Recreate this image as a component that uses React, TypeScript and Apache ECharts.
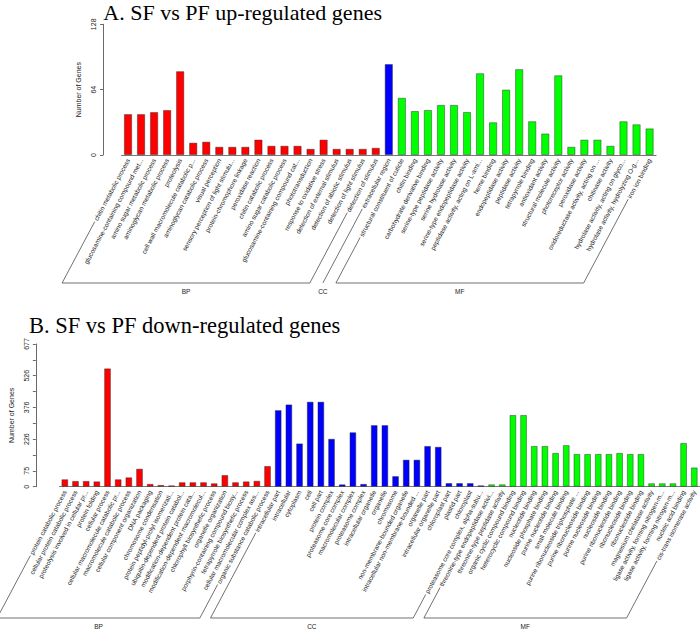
import React, { useEffect, useRef } from "react";
import * as echarts from "echarts";

// ---------- Panel A: SF vs PF up-regulated genes ----------
const A_BP_LABELS = [
  "chitin metabolic process",
  "glucosamine-containing compound metabolic process",
  "amino sugar metabolic process",
  "aminoglycan metabolic process",
  "proteolysis",
  "cell wall macromolecule catabolic process",
  "aminoglycan catabolic process",
  "visual perception",
  "sensory perception of light stimulus",
  "protein-chromophore linkage",
  "peroxidase reaction",
  "chitin catabolic process",
  "amino sugar catabolic process",
  "glucosamine-containing compound catabolic process",
  "phototransduction",
  "response to oxidative stress",
  "detection of external stimulus",
  "detection of abiotic stimulus",
  "detection of light stimulus",
  "detection of stimulus",
];
const A_BP_VALUES = [40, 40, 42, 44, 82, 12, 13, 8, 8, 8, 15, 9, 9, 9, 6, 15, 6, 6, 6, 7];

const A_CC_LABELS = ["extracellular region"];
const A_CC_VALUES = [89];

const A_MF_LABELS = [
  "structural constituent of cuticle",
  "chitin binding",
  "carbohydrate derivative binding",
  "serine-type peptidase activity",
  "serine hydrolase activity",
  "serine-type endopeptidase activity",
  "peptidase activity, acting on L-amino acid peptides",
  "heme binding",
  "endopeptidase activity",
  "peptidase activity",
  "tetrapyrrole binding",
  "antioxidant activity",
  "structural molecule activity",
  "photoreceptor activity",
  "peroxidase activity",
  "oxidoreductase activity, acting on peroxide as acceptor",
  "chitinase activity",
  "hydrolase activity, acting on glycosyl bonds",
  "hydrolase activity, hydrolyzing O-glycosyl compounds",
  "iron ion binding",
];
const A_MF_VALUES = [56, 43, 44, 49, 49, 42, 80, 32, 64, 84, 33, 21, 78, 8, 15, 15, 9, 33, 30, 26];

const A_Y_MAX = 128;
const A_Y_TICK_LABELS = ["0", "64", "128"];

// ---------- Panel B: SF vs PF down-regulated genes ----------
const B_BP_LABELS = [
  "protein catabolic process",
  "cellular protein catabolic process",
  "proteolysis involved in cellular protein catabolic process",
  "protein folding",
  "cellular process",
  "cellular macromolecule catabolic process",
  "macromolecule catabolic process",
  "cellular component organization",
  "DNA packaging",
  "chromosome condensation",
  "protein peptidyl-prolyl isomerization",
  "ubiquitin-dependent protein catabolic process",
  "modification-dependent protein catabolic process",
  "modification-dependent macromolecule catabolic process",
  "chlorophyll biosynthetic process",
  "organelle organization",
  "porphyrin-containing compound biosynthetic process",
  "tetrapyrrole biosynthetic process",
  "cellular macromolecular complex assembly",
  "organic substance catabolic process",
];
const B_BP_VALUES = [35, 27, 27, 25, 561, 35, 44, 85, 13, 8, 6, 21, 21, 21, 16, 55, 21, 25, 28, 98];

const B_CC_LABELS = [
  "intracellular part",
  "intracellular",
  "cytoplasm",
  "cell",
  "cell part",
  "protein complex",
  "proteasome core complex",
  "macromolecular complex",
  "proteasome complex",
  "intracellular organelle",
  "organelle",
  "chromosome",
  "non-membrane-bounded organelle",
  "intracellular non-membrane-bounded organelle",
  "organelle part",
  "intracellular organelle part",
  "chloroplast part",
  "plastid part",
  "chloroplast",
  "proteasome core complex, alpha-subunit complex",
];
const B_CC_VALUES = [363, 390, 205, 403, 403, 227, 11, 258, 13, 292, 292, 50, 128, 128, 193, 189, 17, 17, 17, 6];

const B_MF_LABELS = [
  "threonine-type endopeptidase activity",
  "threonine-type peptidase activity",
  "organic cyclic compound binding",
  "heterocyclic compound binding",
  "nucleotide binding",
  "nucleoside phosphate binding",
  "purine nucleotide binding",
  "small molecule binding",
  "purine ribonucleoside triphosphate binding",
  "purine ribonucleoside binding",
  "purine nucleoside binding",
  "nucleoside binding",
  "purine ribonucleotide binding",
  "ribonucleoside binding",
  "ribonucleotide binding",
  "magnesium chelatase activity",
  "ligase activity, forming nitrogen-metal bonds",
  "ligase activity, forming nitrogen-metal bonds, forming coordination complexes",
  "nucleic acid binding",
  "cis-trans isomerase activity",
];
const B_MF_VALUES = [11, 11, 340, 340, 193, 193, 160, 197, 155, 155, 155, 155, 160, 155, 155, 16, 16, 16, 207, 91];

const B_Y_MAX = 677;
const B_Y_TICK_LABELS = ["0", "75", "", "226", "", "376", "", "526", "", "677"];

const GROUP_NAMES = ["BP", "CC", "MF"];
const GROUP_COLORS = ["#ff0000", "#0000ff", "#00ff00"];

// ---------- layout / style ----------
const LABEL_FONT = 6.5;
const LABEL_ROT = 62;
const LABEL_MARGIN = 4;
const SANS = "Liberation Sans, Arial, sans-serif";
const SERIF = "Liberation Serif, Times New Roman, serif";

function trunc(s: string) {
  return s.length > 35 ? s.slice(0, 35) + "..." : s;
}

function buildPanel(groups: { labels: string[]; values: number[] }[]) {
  const cats: string[] = [];
  const data: any[] = [];
  const ranges: [number, number][] = [];
  groups.forEach((g, gi) => {
    const start = cats.length;
    g.labels.forEach((l, i) => {
      cats.push(trunc(l));
      data.push({
        value: g.values[i],
        itemStyle: { color: GROUP_COLORS[gi] },
      });
    });
    ranges.push([start, cats.length - 1]);
  });
  return { cats, data, ranges };
}

export default function App() {
  const ref = useRef<HTMLDivElement>(null);

  useEffect(() => {
    document.body.style.margin = "0";
    if (!ref.current) return;
    const chart = echarts.init(ref.current, undefined, { renderer: "svg" });

    const A = buildPanel([
      { labels: A_BP_LABELS, values: A_BP_VALUES },
      { labels: A_CC_LABELS, values: A_CC_VALUES },
      { labels: A_MF_LABELS, values: A_MF_VALUES },
    ]);
    const B = buildPanel([
      { labels: B_BP_LABELS, values: B_BP_VALUES },
      { labels: B_CC_LABELS, values: B_CC_VALUES },
      { labels: B_MF_LABELS, values: B_MF_VALUES },
    ]);

    const aInterval = A_Y_MAX / (A_Y_TICK_LABELS.length - 1);
    const bInterval = B_Y_MAX / (B_Y_TICK_LABELS.length - 1);

    const xAxisCommon = {
      type: "category" as const,
      axisLine: { lineStyle: { color: "#555", width: 0.8 } },
      axisTick: { length: 3, lineStyle: { color: "#555", width: 0.8 } },
      axisLabel: {
        interval: 0,
        rotate: LABEL_ROT,
        fontSize: LABEL_FONT,
        fontFamily: SANS,
        color: "#222",
        margin: LABEL_MARGIN,
      },
    };
    const yAxisCommon = {
      type: "value" as const,
      min: 0,
      name: "Number of Genes",
      nameLocation: "middle" as const,
      nameTextStyle: { fontSize: 7, fontFamily: SANS, color: "#222" },
      axisLine: { show: true, lineStyle: { color: "#444", width: 0.8 } },
      axisTick: { show: true, length: 3, lineStyle: { color: "#444", width: 0.8 } },
      splitLine: { show: false },
    };

    chart.setOption({
      animation: false,
      grid: [
        { left: 121.5, top: 24.3, width: 534.6, height: 130.7 },
        { left: 48.6, top: 344, width: 651, height: 142.7 },
      ],
      xAxis: [
        { ...xAxisCommon, gridIndex: 0, data: A.cats },
        { ...xAxisCommon, gridIndex: 1, data: B.cats },
      ],
      yAxis: [
        {
          ...yAxisCommon,
          gridIndex: 0,
          max: A_Y_MAX,
          interval: aInterval,
          offset: 18.5,
          nameGap: 17,
          axisLabel: {
            rotate: 90,
            fontSize: 7,
            fontFamily: SANS,
            color: "#222",
            margin: 6,
            formatter: (v: number) => A_Y_TICK_LABELS[Math.round(v / aInterval)] ?? "",
          },
        },
        {
          ...yAxisCommon,
          gridIndex: 1,
          max: B_Y_MAX,
          interval: bInterval,
          offset: 23.6,
          nameGap: 14,
          axisLabel: {
            rotate: 90,
            fontSize: 7,
            fontFamily: SANS,
            color: "#222",
            margin: 6,
            formatter: (v: number) => B_Y_TICK_LABELS[Math.round(v / bInterval)] ?? "",
          },
        },
      ],
      series: [
        {
          type: "bar",
          xAxisIndex: 0,
          yAxisIndex: 0,
          data: A.data,
          barWidth: "62%",
          itemStyle: { borderColor: "rgba(40,40,40,0.55)", borderWidth: 0.8 },
        },
        {
          type: "bar",
          xAxisIndex: 1,
          yAxisIndex: 1,
          data: B.data,
          barWidth: "62%",
          itemStyle: { borderColor: "rgba(40,40,40,0.55)", borderWidth: 0.8 },
        },
      ],
    });

    // group brackets below the rotated labels
    const canvas = document.createElement("canvas");
    const ctx = canvas.getContext("2d")!;
    ctx.font = `${LABEL_FONT}px "Liberation Sans"`;
    const th = (LABEL_ROT * Math.PI) / 180;
    const elements: any[] = [];

    const addBrackets = (
      axisIdx: number,
      panel: { cats: string[]; ranges: [number, number][] },
      yBottom: number
    ) => {
      const base = chart.convertToPixel({ yAxisIndex: axisIdx }, 0) as number;
      const endPoint = (i: number) => {
        const x = chart.convertToPixel({ xAxisIndex: axisIdx }, i) as number;
        const L = ctx.measureText(panel.cats[i]).width + 1.5;
        const ay = base + LABEL_MARGIN;
        return [x - L * Math.cos(th), ay + L * Math.sin(th)];
      };
      panel.ranges.forEach(([s, e], gi) => {
        const p1 = endPoint(s);
        const p2 = endPoint(e);
        const b1 = [p1[0] - (yBottom - p1[1]) / Math.tan(th), yBottom];
        const b2 = [p2[0] - (yBottom - p2[1]) / Math.tan(th), yBottom];
        const ls = { stroke: "#333", lineWidth: 0.7 };
        elements.push({ type: "line", shape: { x1: p1[0], y1: p1[1], x2: b1[0], y2: b1[1] }, style: ls, silent: true });
        if (e !== s) {
          elements.push({ type: "line", shape: { x1: p2[0], y1: p2[1], x2: b2[0], y2: b2[1] }, style: ls, silent: true });
          elements.push({ type: "line", shape: { x1: b1[0], y1: yBottom, x2: b2[0], y2: yBottom }, style: ls, silent: true });
        }
        elements.push({
          type: "text",
          x: (b1[0] + b2[0]) / 2,
          y: yBottom + 8,
          style: {
            text: GROUP_NAMES[gi],
            fontSize: 6.5,
            fontFamily: SANS,
            fill: "#222",
            align: "center",
            verticalAlign: "middle",
          },
          silent: true,
        });
      });
    };
    addBrackets(0, A, 283);
    addBrackets(1, B, 618);

    elements.push({
      type: "text",
      x: 103.3,
      y: 12,
      style: {
        text: "A. SF vs PF up-regulated genes",
        fontSize: 22,
        fontFamily: SERIF,
        fill: "#000",
        align: "left",
        verticalAlign: "middle",
      },
    });
    elements.push({
      type: "text",
      x: 28.9,
      y: 325.3,
      style: {
        text: "B. SF vs PF down-regulated genes",
        fontSize: 22.5,
        fontFamily: SERIF,
        fill: "#000",
        align: "left",
        verticalAlign: "middle",
      },
    });

    chart.setOption({ graphic: elements });

    return () => chart.dispose();
  }, []);

  return <div ref={ref} style={{ width: 700, height: 634 }} />;
}
